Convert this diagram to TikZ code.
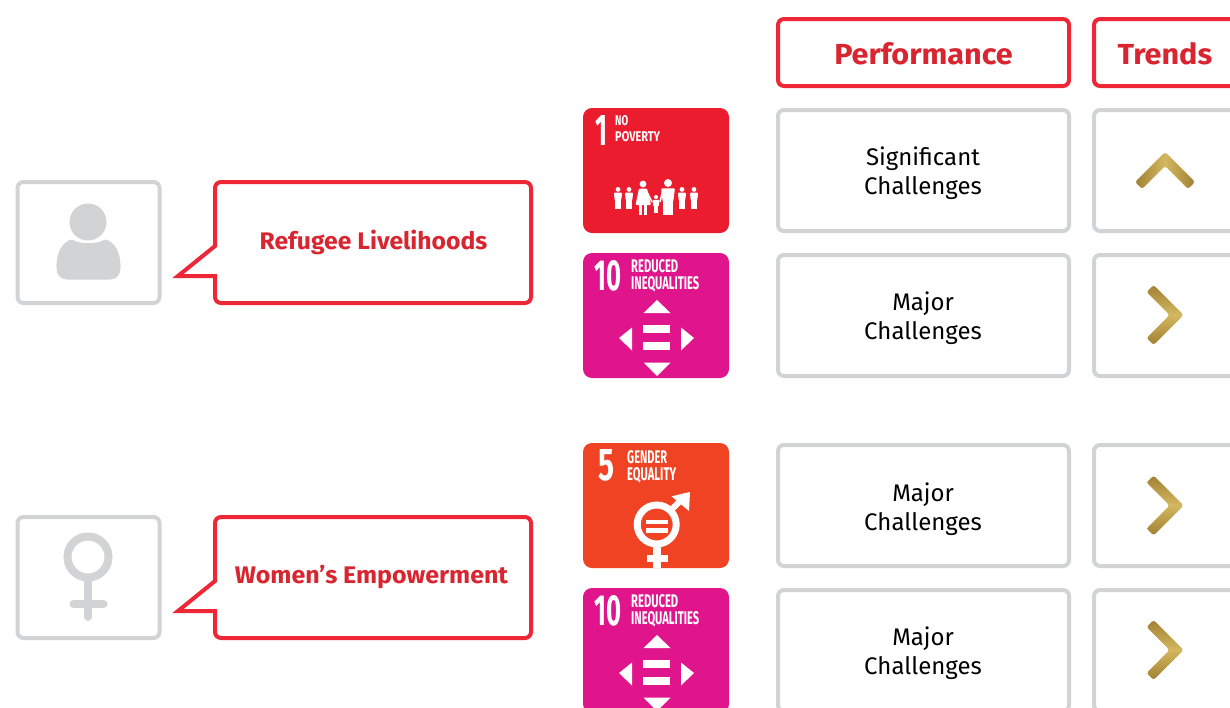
\documentclass[tikz,border=0pt]{standalone}
\usepackage{fontspec}
\setmainfont{Fira Sans}
\definecolor{redline}{HTML}{EE2737}
\definecolor{redtext}{HTML}{D9252F}
\definecolor{greyline}{HTML}{D1D3D4}
\definecolor{sdgone}{HTML}{EB1C2E}
\definecolor{sdgten}{HTML}{E0158C}
\definecolor{sdgfive}{HTML}{F04324}
\definecolor{golddark}{HTML}{A07F33}
\definecolor{goldlight}{HTML}{D3B85F}
\tikzset{
  greybox/.style={draw=greyline,line width=4pt,rounded corners=6pt,fill=white},
  redbox/.style={draw=redline,line width=4pt,rounded corners=6pt,fill=white},
  callout/.style={draw=redline,line width=4pt,fill=white,line join=miter},
  headtext/.style={text=redtext,font=\fontsize{29}{32}\selectfont\bfseries,inner sep=0pt},
  calltext/.style={text=redtext,font=\fontsize{24}{28}\selectfont\bfseries,inner sep=0pt},
  bodytext/.style={text=black,font=\fontsize{24}{29}\selectfont,align=center,inner sep=0pt},
  tiletext/.style={anchor=north west,inner sep=0pt,text=white,font=\bfseries},
  iconfill/.style={fill=greyline,draw=none},
  iconline/.style={draw=greyline,line width=8pt,line cap=round},
  whitefill/.style={fill=white,draw=none}
}
% chevron in local coordinates: outer tip at the origin, arms towards +y
\newcommand{\chevpoly}{[rounded corners=2.5pt] (15,14) -- (30,29) -- (23,36) -- (0,13) -- (-23,36) -- (-30,29) -- (0,-1) -- cycle}
\newcommand{\chevup}[2]{\shade[shift={(#1,#2)},left color=golddark,right color=golddark,middle color=goldlight] \chevpoly;}
\newcommand{\chevright}[2]{\shade[shift={(#1,#2)},rotate=90,yscale=-1,top color=golddark,bottom color=golddark,middle color=goldlight] \chevpoly;}
\newcommand{\ineqicon}[1]{%
\begin{scope}[shift={(0,#1)}]
\fill[whitefill] (657,300) -- (670.5,313) -- (643.5,313) -- cycle;
\fill[whitefill] (643,325) rectangle (670,333);
\fill[whitefill] (643,342) rectangle (670,350);
\fill[whitefill] (657,376) -- (670.5,362.5) -- (643.5,362.5) -- cycle;
\fill[whitefill] (619,338) -- (632,327.5) -- (632,350.5) -- cycle;
\fill[whitefill] (694,338) -- (681,327.5) -- (681,350.5) -- cycle;
\end{scope}}
\newcommand{\tenlabel}[2]{%
\node[tiletext] (#1num) at (594,#2+7) {\resizebox{27pt}{30pt}{10}};
\node[tiletext] (#1a) at (631,#2+6.5) {\resizebox{47pt}{13pt}{REDUCED}};
\node[tiletext] (#1b) at (631,#2+23.5) {\resizebox{68pt}{13pt}{INEQUALITIES}};}
% person: x, head-top y, scale
\newcommand{\sdgfig}[3]{%
\begin{scope}[shift={(#1,#2)},scale=#3]
\fill[whitefill] (0,3) circle (3);
\fill[whitefill,rounded corners=1pt] (-5.2,7) -- (5.2,7) -- (4,17) -- (-4,17) -- cycle;
\fill[whitefill] (-3.6,16) rectangle (-.3,27);
\fill[whitefill] (.3,16) rectangle (3.6,27);
\end{scope}}
\begin{document}
\begin{tikzpicture}[x=1pt,y=-1pt]
\useasboundingbox (0,0) rectangle (1230,707);
\clip (0,0) rectangle (1230,707);
\fill[white] (0,0) rectangle (1230,707);
% headers
\draw[redbox] (778,19) rectangle (1069,86);
\draw[redbox] (1094,19) rectangle (1250,86);
\node[headtext] (perf) at (923.5,53.5) {\scalebox{1.055}[1]{Performance}};
\node[headtext] (trends) at (1165,53.5) {\scalebox{1.055}[1]{Trends}};
% performance boxes
\foreach \t/\n in {108/a,253/b,443/c,588/d}{
  \draw[greybox] (778,\t+2) rectangle (1069,\t+123);
  \draw[greybox] (1094,\t+2) rectangle (1250,\t+123);
}
\node[bodytext] (pa) at (923,173) {Significant\\Challenges};
\node[bodytext] (pb) at (923,318) {Major\\Challenges};
\node[bodytext] (pc) at (923,509) {Major\\Challenges};
\node[bodytext] (pd) at (923,653.5) {Major\\Challenges};
% trend chevrons
\chevup{1165}{153}
\chevright{1182.5}{315}
\chevright{1182.5}{505.5}
\chevright{1182.5}{650}
% left boxes
\draw[greybox] (17.5,182) rectangle (159.5,303);
\draw[greybox] (17.5,517) rectangle (159.5,638);
% person icon
\fill[iconfill] (88,222) circle (18.5);
\fill[iconfill] (72,239.5) .. controls (79,244.5) and (97,244.5) .. (105,239.5)
  .. controls (114,241) and (121,252) .. (120.5,268)
  .. controls (120.5,275) and (116,279.5) .. (110,279.5)
  -- (67,279.5) .. controls (61,279.5) and (56.5,275) .. (56.5,268)
  .. controls (56,252) and (63,241) .. (72,239.5) -- cycle;
% female icon
\draw[iconline] (88,557) circle (20.5);
\draw[iconline] (88,578) -- (88,617);
\draw[iconline] (73.5,604) -- (103.5,604);
% callouts
\draw[callout] (215,246) [rounded corners=6pt] -- (215,182) -- (531,182) -- (531,303) -- (215,303) [sharp corners] -- (215,276) -- (178,276) -- cycle;
\draw[callout] (215,581) [rounded corners=6pt] -- (215,517) -- (531,517) -- (531,638) -- (215,638) [sharp corners] -- (215,611) -- (178,611) -- cycle;
\node[calltext] (la) at (373.5,242) {\scalebox{1.03}[1]{Refugee Livelihoods}};
\node[calltext] (lb) at (371.5,577) {\scalebox{1.04}[1]{Women’s Empowerment}};
% SDG 1
\fill[sdgone,rounded corners=9pt] (583,108) rectangle (729,233);
\node[tiletext] (n1) at (595,115) {\resizebox{12pt}{30pt}{1}};
\node[tiletext] (n1a) at (615,115) {\resizebox{13pt}{10pt}{NO}};
\node[tiletext] (n1b) at (615,131) {\resizebox{45pt}{10pt}{POVERTY}};
\sdgfig{618}{187}{.8}
\sdgfig{629}{187}{.8}
\sdgfig{682}{187}{.8}
\sdgfig{694}{187}{.8}
\sdgfig{656}{195}{.68}
\fill[whitefill] (643,184) circle (3.4);
\fill[whitefill,rounded corners=1pt] (639,188.5) -- (647,188.5) -- (651,205) -- (635.5,205) -- cycle;
\fill[whitefill] (639,204) rectangle (642.3,215);
\fill[whitefill] (643.7,204) rectangle (647,215);
\sdgfig{668}{179}{1.33}
\draw[white,line width=1.5pt] (647,192) -- (652,202);
\draw[white,line width=1.5pt] (663,190) -- (660,202);
% SDG 10 (first)
\fill[sdgten,rounded corners=9pt] (583,253) rectangle (729,378);
\tenlabel{t}{253}
\ineqicon{0}
% SDG 5
\fill[sdgfive,rounded corners=9pt] (583,443) rectangle (729,568);
\node[tiletext] (n5) at (598,449) {\resizebox{16pt}{31pt}{5}};
\node[tiletext] (n5a) at (627,450) {\resizebox{40pt}{13pt}{GENDER}};
\node[tiletext] (n5b) at (627,467) {\resizebox{49pt}{13pt}{EQUALITY}};
\begin{scope}
\clip[rounded corners=9pt] (583,443) rectangle (729,568);
\draw[white,line width=7pt] (656.7,524.5) circle (19.5);
\fill[whitefill] (645.7,519.5) rectangle (667.7,524.3);
\fill[whitefill] (645.7,527.7) rectangle (667.7,533);
\fill[whitefill] (652.7,545) rectangle (660.7,570);
\fill[whitefill] (646.7,555.3) rectangle (667.7,562);
\draw[white,line width=6pt] (671,510) -- (686,495);
\fill[whitefill] (671.5,496.3) -- (690,492) -- (689,511) -- cycle;
\end{scope}
% SDG 10 (second)
\fill[sdgten,rounded corners=9pt] (583,588) rectangle (729,713);
\tenlabel{u}{588}
\ineqicon{335}
\end{tikzpicture}
\end{document}
